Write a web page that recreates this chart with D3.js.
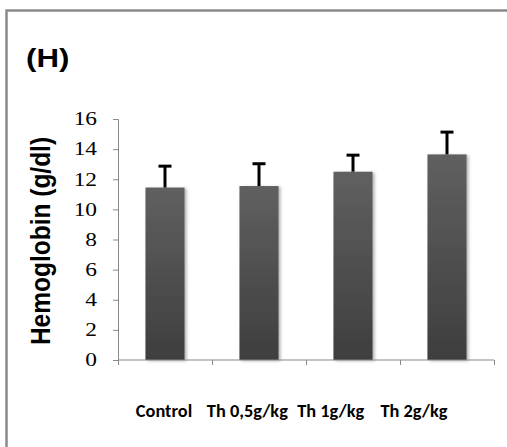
<!DOCTYPE html>
<html>
<head>
<meta charset="utf-8">
<script src="https://cdn.jsdelivr.net/npm/d3@7"></script>
<style>
  body { margin: 0; background: #fff; }
  svg { display: block; }
</style>
</head>
<body>
<div id="chart-container"></div>
<script>
// Hemoglobin bar chart, panel (H)
const categories = ["Control", "Th 0,5g/kg", "Th 1g/kg", "Th 2g/kg"];
const hemoglobin = [11.45, 11.55, 12.5, 13.65];
const errors = [1.42, 1.48, 1.1, 1.48];
const yTicks = [0, 2, 4, 6, 8, 10, 12, 14, 16];

const width = 507, height = 447;
const plot = { left: 118, right: 494, top: 119, bottom: 360 };
const stretch = 1.3; // the original figure is stretched sideways

const svg = d3.select("#chart-container")
    .append("svg")
    .attr("width", width)
    .attr("height", height);

const defs = svg.append("defs");
const grad = defs.append("linearGradient")
    .attr("id", "barGrad").attr("x1", 0).attr("y1", 0).attr("x2", 0).attr("y2", 1);
grad.append("stop").attr("offset", "0%").attr("stop-color", "#606060");
grad.append("stop").attr("offset", "100%").attr("stop-color", "#3e3e3e");

const shadow = defs.append("filter").attr("id", "shadow")
    .attr("x", "-20%").attr("y", "-20%").attr("width", "150%").attr("height", "140%");
shadow.append("feDropShadow")
    .attr("dx", 2).attr("dy", 1).attr("stdDeviation", 1.5)
    .attr("flood-color", "#000").attr("flood-opacity", 0.3);

// frame (only top and left edges are in view)
svg.append("path")
    .attr("d", `M6.5,${height} V10.5 H${width}`)
    .attr("fill", "none")
    .attr("stroke", "#8a8a8a")
    .attr("stroke-width", 2.5);

// panel letter
svg.append("text")
    .attr("transform", "translate(26,67) scale(1.2,1)")
    .style("font-family", "'Liberation Sans', Arial, sans-serif")
    .style("font-weight", "bold")
    .style("font-size", "26px")
    .text("(H)");

const x = d3.scaleBand().domain(categories).range([plot.left, plot.right]).paddingInner(0.584).paddingOuter(0.292);
const xTickScale = d3.scaleLinear().domain([0, categories.length]).range([plot.left, plot.right]);
const y = d3.scaleLinear().domain([0, 16]).range([plot.bottom, plot.top]);

// bars
svg.selectAll("rect.bar")
    .data(hemoglobin)
    .enter()
    .append("rect")
    .attr("class", "bar")
    .attr("x", (d, i) => x(categories[i]))
    .attr("y", d => y(d))
    .attr("width", x.bandwidth())
    .attr("height", d => y(0) - y(d))
    .attr("fill", "url(#barGrad)")
    .attr("filter", "url(#shadow)");

// error bars (upper only)
const err = svg.append("g").attr("stroke", "#000").attr("stroke-width", 3);
hemoglobin.forEach((v, i) => {
    const cx = x(categories[i]) + x.bandwidth() / 2;
    err.append("line").attr("x1", cx).attr("x2", cx).attr("y1", y(v)).attr("y2", y(v + errors[i]));
    err.append("line").attr("x1", cx - 6.5).attr("x2", cx + 6.5).attr("y1", y(v + errors[i])).attr("y2", y(v + errors[i]));
});

// y axis
const yAxis = svg.append("g")
    .attr("transform", `translate(${plot.left},0)`)
    .call(d3.axisLeft(y).tickValues(yTicks).tickSize(5));
yAxis.select(".domain").attr("stroke", "#888");
yAxis.selectAll(".tick line").attr("stroke", "#888");
yAxis.selectAll(".tick text")
    .attr("x", -21 / stretch)
    .attr("transform", `scale(${stretch},1)`)
    .attr("fill", "#000")
    .style("font-family", "'Liberation Serif', 'Times New Roman', serif")
    .style("font-size", "18px");

// x axis line with ticks at band boundaries
const xAxis = svg.append("g")
    .attr("transform", `translate(0,${plot.bottom})`)
    .call(d3.axisBottom(xTickScale).ticks(categories.length).tickSize(5).tickFormat(""));
xAxis.select(".domain").attr("stroke", "#888").attr("d", `M${plot.left},0H${plot.right}`);
xAxis.selectAll(".tick line").attr("stroke", "#888");

// category labels
const xLabel = d3.scalePoint().domain(categories).range([164, 414]);
svg.selectAll("text.cat")
    .data(categories)
    .enter()
    .append("text")
    .attr("class", "cat")
    .attr("transform", d => `translate(${xLabel(d)},417) scale(1.08,1)`)
    .attr("text-anchor", "middle")
    .style("font-family", "Carlito, 'Liberation Sans Narrow', 'Open Sans', sans-serif")
    .style("font-weight", "bold")
    .style("font-size", "17px")
    .text(d => d);

// y axis title
svg.append("text")
    .attr("transform", `translate(50,${(132 + 350) / 2}) scale(1.15,1) rotate(-90)`)
    .attr("text-anchor", "middle")
    .style("font-family", "'Liberation Sans', Arial, sans-serif")
    .style("font-weight", "bold")
    .style("font-size", "24.5px")
    .text("Hemoglobin (g/dl)");
</script>
</body>
</html>
